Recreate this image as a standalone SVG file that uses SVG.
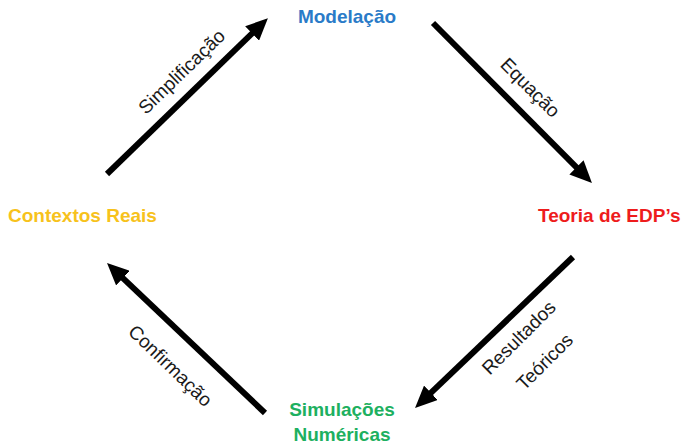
<svg xmlns="http://www.w3.org/2000/svg" width="684" height="448" viewBox="0 0 684 448">
<defs>
<marker id="ah" markerUnits="userSpaceOnUse" viewBox="0 0 22 20" refX="11" refY="10" markerWidth="22" markerHeight="20" orient="auto">
<path d="M0,0 L22,10 L0,20 z" fill="#000"/>
</marker>
<style>
.node{font-family:"Liberation Sans",Arial,sans-serif;font-weight:bold;font-size:19px}
.lbl{font-family:"Liberation Sans",Arial,sans-serif;font-size:19px;fill:#1a1a1a;text-anchor:middle}
.arr{stroke:#000;stroke-width:6;fill:none;marker-end:url(#ah)}
</style>
</defs>
<rect width="684" height="448" fill="#fff"/>
<g id="modelacao"><text class="node" x="347" y="23" text-anchor="middle" fill="#2A7BC8">Modelação</text></g>
<g id="contextos"><text class="node" x="8" y="222" fill="#F7C21C">Contextos Reais</text></g>
<g id="teoria"><text class="node" x="538" y="222" fill="#EE1C1C">Teoria de EDP’s</text></g>
<g id="simulacoes"><text class="node" text-anchor="middle" fill="#1DB060"><tspan x="342" y="416">Simulações</tspan><tspan x="342" y="441">Numéricas</tspan></text></g>
<g id="connectors">
<path class="arr" d="M107,174 L260,25.8"/>
<path class="arr" d="M433,23 L584.2,175.2"/>
<path class="arr" d="M573,257 L423,400.4"/>
<path class="arr" d="M265,413 L115,270.6"/>
<text class="lbl" transform="translate(182,72) rotate(-44)" y="6">Simplificação</text>
<text class="lbl" transform="translate(530,88) rotate(45)" y="6">Equação</text>
<text class="lbl" transform="translate(519,338) rotate(-45)" y="6">Resultados</text>
<text class="lbl" transform="translate(545,362) rotate(-45)" y="6">Teóricos</text>
<text class="lbl" transform="translate(170,366) rotate(44)" y="6">Confirmação</text>
</g>
</svg>
